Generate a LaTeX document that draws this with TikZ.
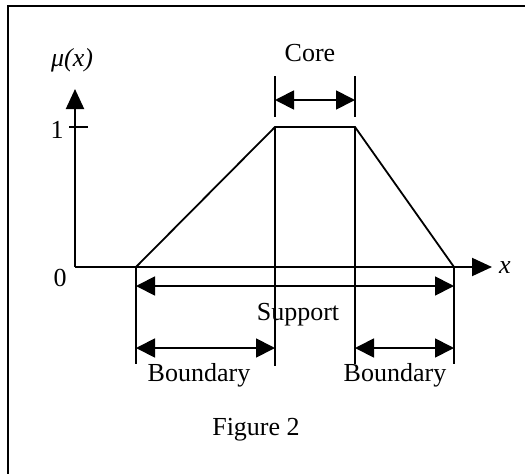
\documentclass[tikz,border=0pt]{standalone}
\usepackage{fontspec}
\setmainfont{Liberation Serif}
\usetikzlibrary{arrows.meta}
\tikzset{
  dimarrow/.style={line width=1.8pt, {Triangle[length=19pt,width=19pt]}-{Triangle[length=19pt,width=19pt]}},
  axisline/.style={line width=2pt, -{Triangle[length=20pt,width=18pt]}},
  lbl/.style={inner sep=0pt, font=\fontsize{26}{30}\selectfont},
}
\begin{document}
\begin{tikzpicture}[x=1pt, y=-1pt, line width=1.8pt]
\useasboundingbox (0,0) rectangle (525,474);
% --- frame ---
\draw[line width=2.4pt] (8,474) -- (8,6) -- (525,6);
% --- axes ---
\coordinate (O) at (75,267);
\coordinate (ytip) at (75,89);
\coordinate (xtip) at (492,267);
\draw[axisline] (O) -- (ytip);
\draw[axisline] (O) -- (xtip);
\coordinate (t1a) at (69,127);
\coordinate (t1b) at (88,127);
\draw (t1a) -- (t1b);
\node[lbl, font=\fontsize{26}{30}\selectfont\itshape] (mu) at (72,60) {μ(x)};
\node[lbl, font=\fontsize{26}{30}\selectfont\itshape] (xl) at (505,268) {x};
\node[lbl] (one) at (57,130) {1};
\node[lbl] (zero) at (60,278) {0};
% --- trapezoid ---
\coordinate (A) at (136,267);
\coordinate (B) at (275,127);
\coordinate (C) at (355,127);
\coordinate (D) at (454,267);
\draw (A) -- (B) -- (C) -- (D);
% --- drop lines ---
\coordinate (Al) at (136,364);
\coordinate (Bl) at (275,366);
\coordinate (Cl) at (355,364);
\coordinate (Dl) at (454,364);
\draw (A) -- (Al);
\draw (B) -- (Bl);
\draw (C) -- (Cl);
\draw (D) -- (Dl);
% --- core ---
\coordinate (Bt) at (275,76);
\coordinate (Bb) at (275,117);
\coordinate (Ct) at (355,76);
\coordinate (Cb) at (355,117);
\draw (Bt) -- (Bb);
\draw (Ct) -- (Cb);
\coordinate (coreL) at (275,100);
\coordinate (coreR) at (355,100);
\draw[dimarrow] (coreL) -- (coreR);
\node[lbl] (core) at (310,53) {Core};
% --- support ---
\coordinate (supL) at (136,286);
\coordinate (supR) at (454,286);
\draw[dimarrow] (supL) -- (supR);
\node[lbl] (support) at (298,315) {Support};
% --- boundaries ---
\coordinate (bl1) at (136,348);
\coordinate (bl2) at (275,348);
\coordinate (br1) at (355,348);
\coordinate (br2) at (454,348);
\draw[dimarrow] (bl1) -- (bl2);
\draw[dimarrow] (br1) -- (br2);
\node[lbl] (bndL) at (199,375) {Boundary};
\node[lbl] (bndR) at (395,375) {Boundary};
% --- caption ---
\node[lbl] (cap) at (256,430) {Figure 2};
\end{tikzpicture}
\end{document}
